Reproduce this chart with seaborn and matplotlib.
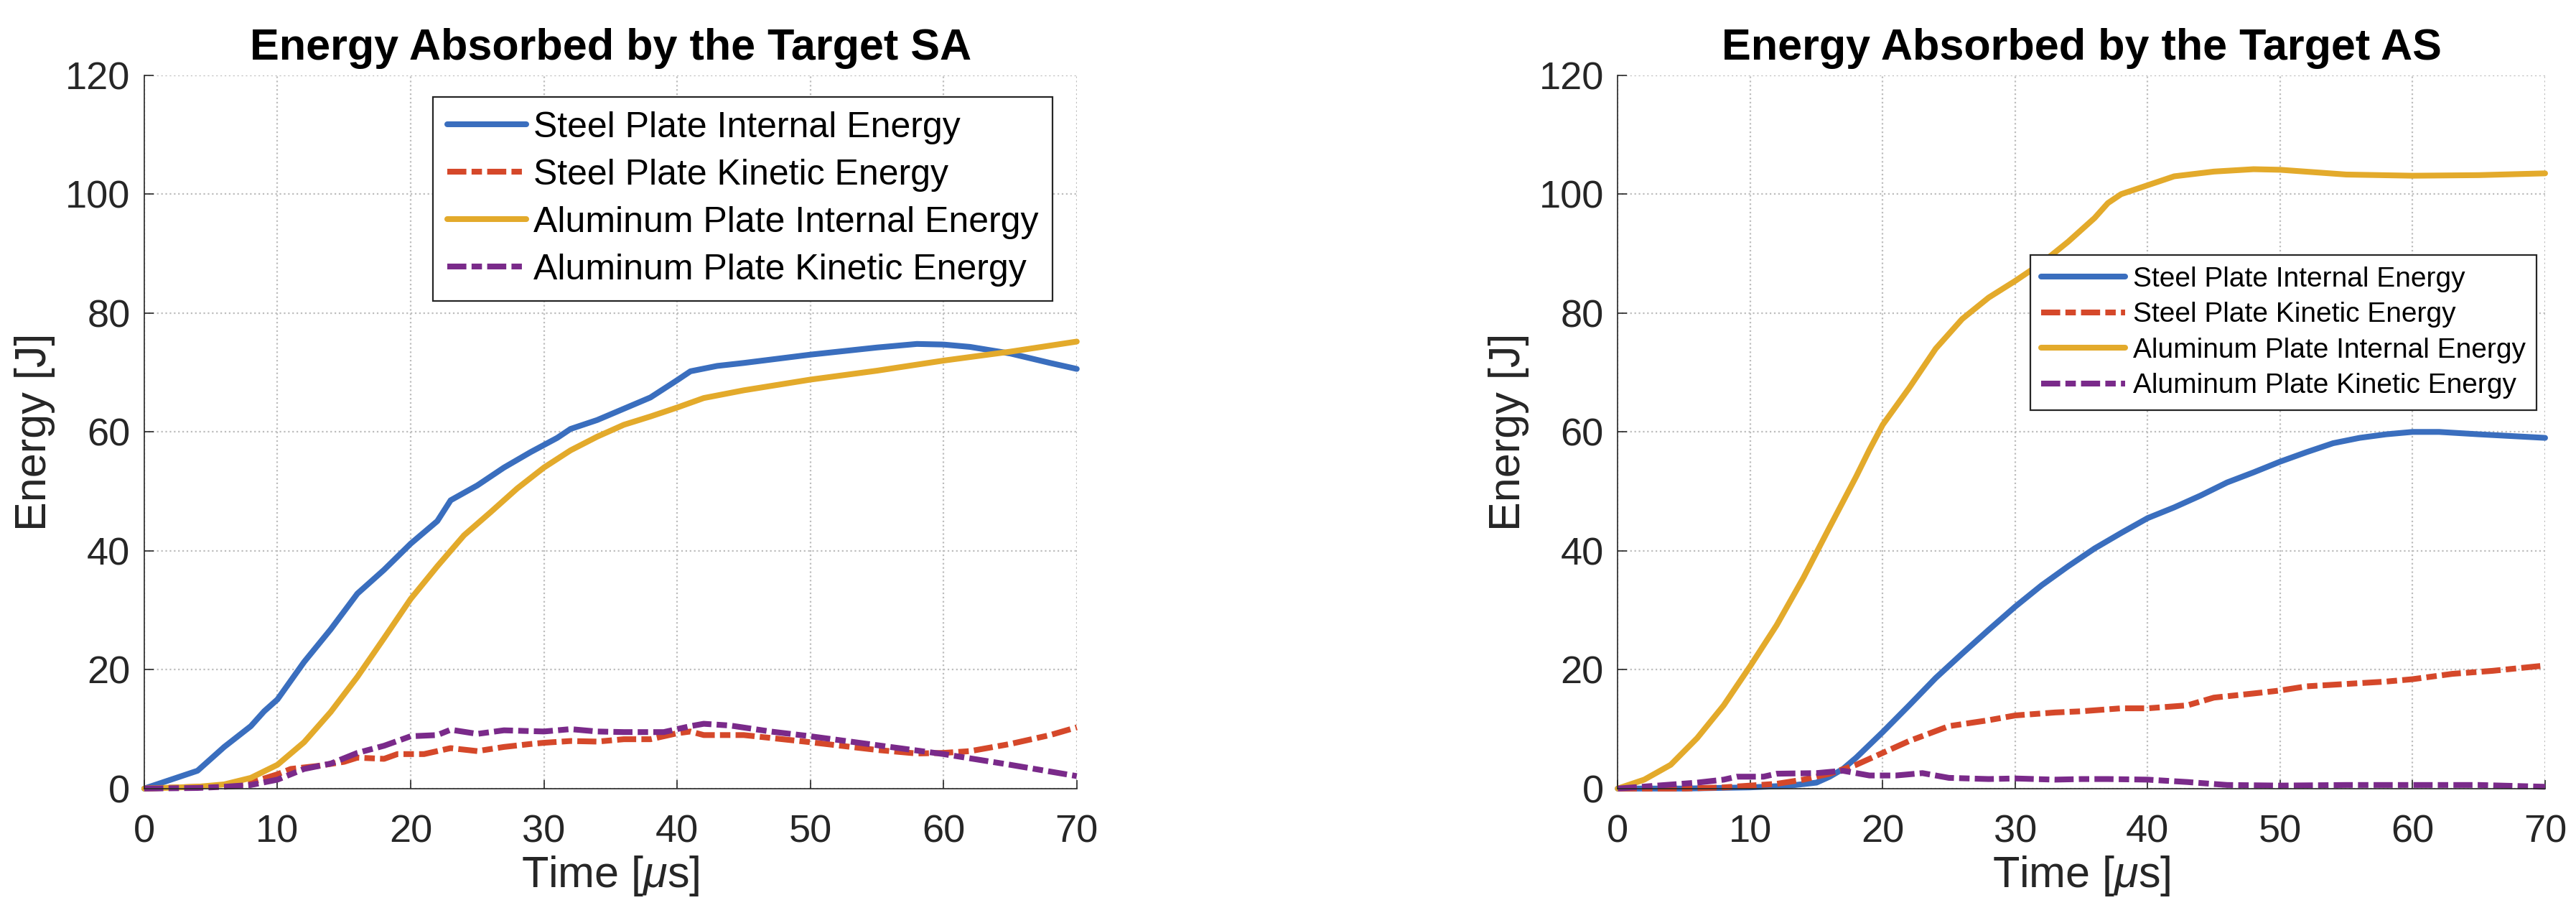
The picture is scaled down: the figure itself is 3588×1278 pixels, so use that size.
import numpy as np
import pandas as pd
import matplotlib
matplotlib.use("Agg")
import matplotlib.pyplot as plt
import seaborn as sns

# ---------------------------------------------------------------
# Data (time in microseconds, energy in J)
# ---------------------------------------------------------------
# Target SA
sa_steel_int_t = [0, 2, 4, 6, 8, 9, 10, 12, 14, 16, 18, 20, 22, 23, 25, 27, 29, 31, 32, 34, 36, 38,
                  40, 41, 43, 45, 50, 55, 58, 60, 62, 65, 68, 70]
sa_steel_int_e = [0, 1.5, 3, 7, 10.5, 13, 15, 21.3, 26.8, 32.8, 36.8, 41.2, 45, 48.5, 51, 54, 56.6,
                  59, 60.5, 62, 63.9, 65.8, 68.7, 70.2, 71.1, 71.6, 73, 74.2, 74.8, 74.7, 74.3,
                  73.2, 71.6, 70.6]
sa_steel_kin_t = [0, 4, 6, 8, 10, 11, 13, 15, 16, 18, 19, 21, 23, 25, 27, 29, 30, 32, 34, 36, 38,
                  40, 41, 42, 45, 50, 55, 58, 60, 62, 65, 68, 70]
sa_steel_kin_e = [0, 0.3, 0.5, 1, 2.4, 3.3, 3.8, 4.5, 5.2, 5.0, 5.8, 5.8, 6.8, 6.3, 7.0, 7.5, 7.7,
                  8.0, 7.9, 8.3, 8.3, 9.3, 9.6, 9.0, 9.0, 7.8, 6.5, 5.9, 6.0, 6.3, 7.5, 9.0, 10.3]
sa_al_int_t = [0, 4, 6, 8, 10, 12, 14, 16, 18, 20, 22, 24, 26, 28, 30, 32, 34, 36, 38, 40, 42, 45,
               50, 55, 60, 65, 70]
sa_al_int_e = [0, 0.3, 0.7, 1.8, 4, 7.8, 12.9, 18.8, 25.3, 31.9, 37.4, 42.6, 46.5, 50.5, 54, 56.9,
               59.2, 61.2, 62.6, 64.1, 65.7, 67, 68.8, 70.3, 72, 73.5, 75.2]
sa_al_kin_t = [0, 4, 6, 8, 10, 12, 14, 16, 18, 20, 22, 23, 25, 27, 30, 32, 34, 36, 39, 41, 42, 44,
               47, 50, 55, 60, 65, 70]
sa_al_kin_e = [0, 0.1, 0.3, 0.6, 1.5, 3.3, 4.2, 6.0, 7.2, 8.8, 9.0, 9.9, 9.2, 9.8, 9.6, 10.0, 9.6,
               9.5, 9.5, 10.5, 10.9, 10.6, 9.6, 8.8, 7.3, 5.8, 4.0, 2.1]

# Target AS
as_steel_int_t = [0, 5, 10, 13, 15, 16, 17, 18, 20, 22, 24, 26, 28, 30, 32, 34, 36, 38, 40, 42, 44,
                  46, 48, 50, 52, 54, 56, 58, 60, 62, 65, 70]
as_steel_int_e = [0, 0, 0.2, 0.5, 1, 2, 3.3, 5.2, 9.5, 14, 18.6, 22.7, 26.7, 30.6, 34.2, 37.4, 40.4,
                  43, 45.5, 47.3, 49.3, 51.5, 53.2, 55, 56.6, 58.1, 59, 59.6, 60, 60, 59.6, 59]
as_steel_kin_t = [0, 5, 8, 10, 12, 14, 16, 18, 20, 22, 25, 28, 30, 33, 35, 38, 40, 43, 45, 48, 50,
                  52, 55, 58, 60, 63, 66, 70]
as_steel_kin_e = [0, 0, 0.2, 0.5, 0.8, 1.5, 2.5, 4, 6, 8, 10.5, 11.5, 12.3, 12.8, 13, 13.5, 13.5,
                  14, 15.3, 16, 16.5, 17.2, 17.6, 18, 18.4, 19.3, 19.8, 20.7]
as_al_int_t = [0, 2, 4, 6, 8, 10, 12, 14, 16, 18, 19, 20, 22, 24, 26, 28, 30, 32, 34, 36, 37, 38,
               40, 42, 45, 48, 50, 55, 60, 65, 70]
as_al_int_e = [0, 1.5, 4, 8.5, 14, 20.6, 27.5, 35.4, 44, 52.5, 57, 61.2, 67.4, 74, 79, 82.6, 85.4,
               88.4, 92, 96, 98.5, 100, 101.5, 103, 103.8, 104.2, 104.1, 103.3, 103.1, 103.2, 103.5]
as_al_kin_t = [0, 3, 6, 8, 9, 11, 12, 15, 17, 19, 21, 23, 25, 28, 30, 33, 35, 37, 40, 43, 46, 50,
               55, 60, 65, 70]
as_al_kin_e = [0, 0.5, 1, 1.5, 2, 2, 2.5, 2.6, 3, 2.2, 2.2, 2.6, 1.8, 1.6, 1.7, 1.5, 1.6, 1.6, 1.5,
               1.1, 0.6, 0.5, 0.6, 0.6, 0.6, 0.3]

labels = ["Steel Plate Internal Energy", "Steel Plate Kinetic Energy",
          "Aluminum Plate Internal Energy", "Aluminum Plate Kinetic Energy"]
colors = ["#3A6EBE", "#D5482A", "#E3AA2B", "#7A2A8A"]

panels = [
    ("Energy Absorbed by the Target SA",
     [(sa_steel_int_t, sa_steel_int_e), (sa_steel_kin_t, sa_steel_kin_e),
      (sa_al_int_t, sa_al_int_e), (sa_al_kin_t, sa_al_kin_e)]),
    ("Energy Absorbed by the Target AS",
     [(as_steel_int_t, as_steel_int_e), (as_steel_kin_t, as_steel_kin_e),
      (as_al_int_t, as_al_int_e), (as_al_kin_t, as_al_kin_e)]),
]

# ---------------------------------------------------------------
# Style
# ---------------------------------------------------------------
sns.set_theme(style="white")
plt.rcParams['font.family'] = ['Liberation Sans', 'DejaVu Sans']
plt.rcParams['mathtext.fontset'] = 'custom'
plt.rcParams['mathtext.rm'] = 'Liberation Sans'
plt.rcParams['mathtext.it'] = 'Liberation Sans:italic'

dashdot = (3.3, 0.9, 1.8, 0.9)
lw = 2.9

fig = plt.figure(figsize=(17.94, 6.39), dpi=200)
axes = [fig.add_axes([0.056, 0.141, 0.362, 0.777]),
        fig.add_axes([0.628, 0.141, 0.360, 0.777])]

# legend placement / size per panel
legend_specs = [dict(anchor=(0.974, 0.970), size=18, hl=2.2, spacing=0.4, tpad=0.2),
                dict(anchor=(0.991, 0.748), size=14, hl=3.0, spacing=0.35, tpad=0.28)]

for ax, (title, series), leg in zip(axes, panels, legend_specs):
    for (t, e), lab, col in zip(series, labels, colors):
        df = pd.DataFrame({'Time': t, 'Energy': e})
        line_kw = dict(dashes=dashdot) if 'Kinetic' in lab else {}
        sns.lineplot(data=df, x='Time', y='Energy', ax=ax, color=col, lw=lw,
                     label=lab, clip_on=False, **line_kw)

    ax.set_xlim(0, 70)
    ax.set_ylim(0, 120)
    ax.set_xticks(np.arange(0, 71, 10))
    ax.set_yticks(np.arange(0, 121, 20))
    ax.grid(True, color='#bdbdbd', linestyle=':', linewidth=0.8)
    ax.set_axisbelow(True)
    for side in ['top', 'right']:
        ax.spines[side].set_visible(False)
    for side in ['left', 'bottom']:
        ax.spines[side].set_color('#262626')
        ax.spines[side].set_linewidth(0.6)
    ax.tick_params(axis='both', direction='in', length=4.5, width=0.6, colors='#262626',
                   labelsize=19.5, left=True, bottom=True)
    ax.tick_params(axis='x', pad=13)
    ax.tick_params(axis='y', pad=7)

    ax.set_title(title, fontsize=22, fontweight='bold', pad=8, color='black')
    ax.set_xlabel(r'Time [$\mu$s]', fontsize=22, color='#262626', labelpad=2)
    ax.set_ylabel('Energy [J]', fontsize=22, color='#262626', labelpad=5)

    lg = ax.legend(loc='upper right', bbox_to_anchor=leg['anchor'], borderaxespad=0,
                   fontsize=leg['size'], frameon=True, fancybox=False, framealpha=1,
                   edgecolor='#262626', handlelength=leg['hl'], handletextpad=leg['tpad'],
                   labelspacing=leg['spacing'], borderpad=0.4)
    lg.get_frame().set_linewidth(0.8)
    for txt in lg.get_texts():
        txt.set_color('black')

fig.savefig("out.png", dpi=200)
